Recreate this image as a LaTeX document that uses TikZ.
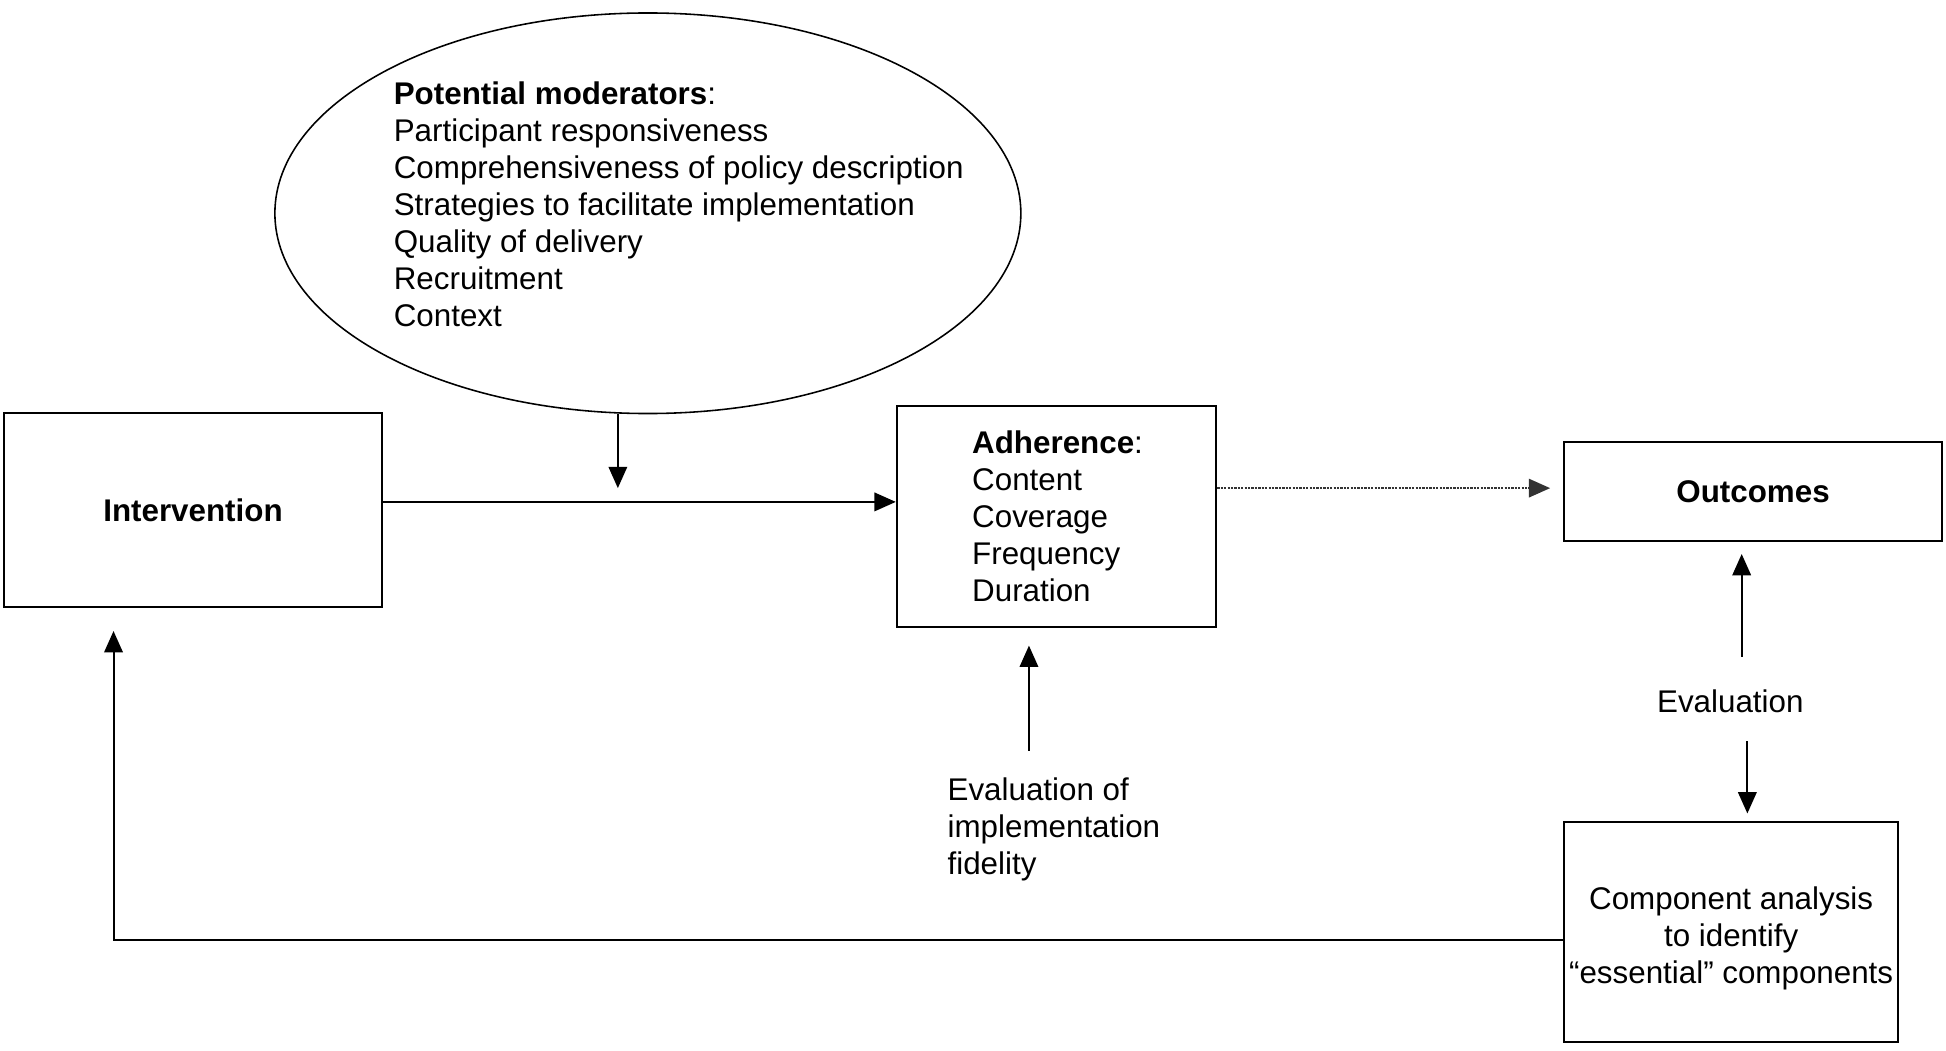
\documentclass[tikz,border=0pt]{standalone}
\usepackage{fontspec}
\setmainfont{Liberation Sans}
\usetikzlibrary{shapes.geometric,arrows.meta}
\tikzset{
	box/.style={draw,line width=0.7pt,inner sep=0pt,font=\fontsize{11}{13}\selectfont},
	boldbox/.style={box,font=\fontsize{11}{13}\selectfont\bfseries},
	txt/.style={font=\fontsize{11}{13}\selectfont,align=left,inner sep=0pt},
	arr/.style={line width=0.7pt,-{Triangle[length=7.5pt,width=6.5pt]}}
}
\begin{document}
\begin{tikzpicture}
	\useasboundingbox (0,0) rectangle (24,12.95);
	% moderators
	\node[ellipse,draw,line width=0.55pt,minimum width=9.2cm,minimum height=4.94cm] (moder) at (7.99,10.32) {};
	\node[txt,anchor=west] (modtext) at (4.85,10.43) {\textbf{Potential moderators}:\\Participant responsiveness\\Comprehensiveness of policy description\\Strategies to facilitate implementation\\Quality of delivery\\Recruitment\\Context};
	% boxes
	\node[boldbox,minimum width=4.66cm,minimum height=2.4cm] (interv) at (2.38,6.66) {Intervention};
	\node[box,align=left,text width=2.08cm,inner xsep=0.93cm,minimum height=2.72cm] (adher) at (13.03,6.58) {\textbf{Adherence}:\\Content\\Coverage\\Frequency\\Duration};
	\node[boldbox,minimum width=4.66cm,minimum height=1.22cm] (outc) at (21.62,6.89) {Outcomes};
	\node[box,align=center,minimum width=4.12cm,minimum height=2.71cm] (comp) at (21.35,1.46) {\rule{0pt}{0.45cm}Component analysis\\to identify\\“essential” components};
	% labels
	\node[txt,anchor=north west] (fidel) at (11.68,3.36) {Evaluation of\\implementation\\fidelity};
	\node[txt] (evalout) at (21.34,4.30) {Evaluation};
	\coordinate (modend) at (7.62,6.93);
	\coordinate (fidtop) at (12.69,3.69);
	\coordinate (evup) at (21.48,4.85);
	\coordinate (evdown) at (21.55,3.81);
	% arrows
	\draw[arr] (moder.south -| modend) -- (modend);
	\draw[arr] ([yshift=0.1cm]interv.east) -- ([yshift=0.1cm]interv.east -| adher.west);
	\draw[arr,black!80,dash pattern=on 0.8pt off 0.4pt,shorten >=0.16cm] ([yshift=0.35cm]adher.east) -- ([yshift=0.35cm]adher.east -| outc.west);
	\draw[arr,shorten >=0.22cm] (fidtop) -- (fidtop |- adher.south);
	\draw[arr,shorten >=0.15cm] (evup) -- (evup |- outc.south);
	\draw[arr,shorten >=0.09cm] (evdown) -- (evdown |- comp.north);
	\draw[arr,shorten >=0.28cm] ([yshift=-0.1cm]comp.west) -| ([xshift=-0.98cm]interv.south);
\end{tikzpicture}
\end{document}
